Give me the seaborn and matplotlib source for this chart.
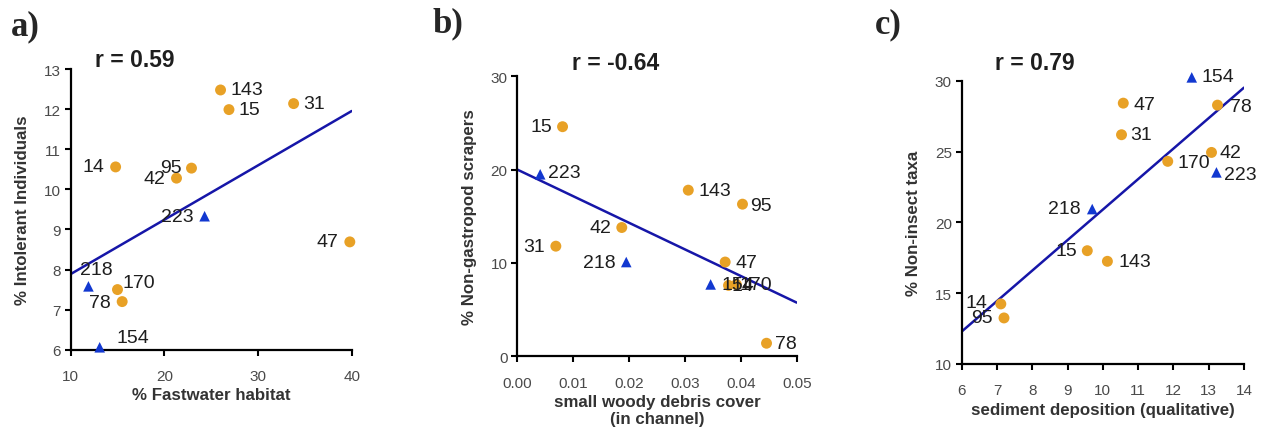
import numpy as np
import pandas as pd
import matplotlib
matplotlib.use('Agg')
import matplotlib.pyplot as plt
import seaborn as sns

# site numbers, triangles mark sites 154, 218, 223
tri_sites = [154, 218, 223]

# a) fastwater habitat vs intolerant individuals
a_site = [143, 15, 31, 14, 95, 42, 223, 47, 218, 170, 78, 154]
a_x = [26.0, 26.9, 33.8, 14.8, 22.9, 21.3, 24.3, 39.8, 11.9, 15.0, 15.5, 13.1]
a_y = [12.48, 11.99, 12.14, 10.56, 10.53, 10.28, 9.33, 8.69, 7.58, 7.50, 7.20, 6.06]

# b) small woody debris vs non-gastropod scrapers
b_site = [15, 223, 143, 95, 42, 31, 218, 47, 154, 14, 170, 78]
b_x = [0.0081, 0.0041, 0.0306, 0.0403, 0.0187, 0.0069, 0.0195, 0.0372, 0.0346, 0.0378, 0.0392, 0.0446]
b_y = [24.6, 19.5, 17.8, 16.3, 13.8, 11.8, 10.1, 10.1, 7.7, 7.6, 7.7, 1.4]

# c) sediment deposition vs non-insect taxa
c_site = [154, 47, 78, 31, 42, 170, 223, 218, 15, 143, 14, 95]
c_x = [12.52, 10.58, 13.25, 10.53, 13.08, 11.84, 13.22, 9.70, 9.56, 10.13, 7.11, 7.20]
c_y = [30.24, 28.42, 28.28, 26.19, 24.94, 24.31, 23.53, 20.94, 18.0, 17.25, 14.24, 13.25]

r_text = ['r = 0.59', 'r = -0.64', 'r = 0.79']

sns.set_style('ticks')
plt.rcParams['font.family'] = ['Liberation Sans', 'DejaVu Sans']

orange = '#E8A126'
blue = '#1238D0'
line_col = '#1616A8'

fig = plt.figure(figsize=(12.66, 4.35), dpi=100)
ax_a = fig.add_axes([0.0558, 0.1938, 0.222, 0.645])
ax_b = fig.add_axes([0.4086, 0.1786, 0.2207, 0.6437])
ax_c = fig.add_axes([0.7596, 0.161, 0.223, 0.651])

# label offsets in pixels (dx, dy, ha)
a_off = [(10, 0, 'left'), (10, 0, 'left'), (10, 0, 'left'), (-11, 0, 'right'),
         (-10, 1, 'right'), (-11, 0, 'right'), (-11, 0, 'right'), (-11, 0, 'right'),
         (-8, 17, 'left'), (5, 7, 'left'), (-11, -1, 'right'), (17, 10, 'left')]
b_off = [(-10, 0, 'right'), (8, 2, 'left'), (10, 0, 'left'), (8, -1, 'left'),
         (-10, 0, 'right'), (-11, 0, 'right'), (-11, 0, 'right'), (10, 0, 'left'),
         (11, 0, 'left'), (3, 0, 'left'), (3, 0, 'left'), (8, 0, 'left')]
c_off = [(10, 1, 'left'), (10, -1, 'left'), (12, -1, 'left'), (9, 0, 'left'),
         (8, 0, 'left'), (10, -1, 'left'), (8, -2, 'left'), (-12, 1, 'right'),
         (-10, 0, 'right'), (11, 0, 'left'), (-13, 1, 'right'), (-11, 0, 'right')]

panels = [
    (ax_a, a_site, a_x, a_y, a_off, (10, 40), (6, 13), [10, 20, 30, 40], range(6, 14),
     '% Fastwater habitat', '% Intolerant Individuals', (0.086, 1.036), 'a)', (11, 27)),
    (ax_b, b_site, b_x, b_y, b_off, (0, 0.05), (0, 30), [0, 0.01, 0.02, 0.03, 0.04, 0.05], [0, 10, 20, 30],
     'small woody debris cover\n(in channel)', '% Non-gastropod scrapers', (0.195, 1.05), 'b)', (432, 24)),
    (ax_c, c_site, c_x, c_y, c_off, (6, 14), (10, 30), range(6, 15), [10, 15, 20, 25, 30],
     'sediment deposition (qualitative)', '% Non-insect taxa', (0.118, 1.065), 'c)', (875, 25)),
]

for i, (ax, site, x, y, off, xl, yl, xt, yt, xlab, ylab, rpos, letter, lpos) in enumerate(panels):
    df = pd.DataFrame({'site': site, 'x': x, 'y': y})
    df['tri'] = df['site'].isin(tri_sites)
    ax.set_xlim(*xl)
    ax.set_ylim(*yl)
    sns.regplot(data=df, x='x', y='y', ax=ax, scatter=False, ci=None, truncate=False,
                line_kws={'color': line_col, 'lw': 1.8, 'zorder': 2})
    sns.scatterplot(data=df[~df['tri']], x='x', y='y', ax=ax, color=orange, marker='o',
                    s=62, edgecolor='none', zorder=3, clip_on=False)
    sns.scatterplot(data=df[df['tri']], x='x', y='y', ax=ax, color=blue, marker='^',
                    s=58, edgecolor='none', zorder=3, clip_on=False)
    for (s, xv, yv), (dx, dy, ha) in zip(zip(site, x, y), off):
        ax.annotate(str(s), (xv, yv), xytext=(dx * 0.72, dy * 0.72), textcoords='offset points',
                    ha=ha, va='center', fontsize=14, color='#1e1e1e', zorder=4,
                    annotation_clip=False)
    ax.set_xlim(*xl)
    ax.set_ylim(*yl)
    ax.set_xticks(list(xt))
    ax.set_yticks(list(yt))
    if i == 1:
        ax.set_xticklabels(['0.00', '0.01', '0.02', '0.03', '0.04', '0.05'])
    ax.set_xlabel(xlab, fontsize=12.2, fontweight='bold', color='#333333', labelpad=3)
    ax.set_ylabel(ylab, fontsize=12.2, fontweight='bold', color='#333333', labelpad=10)
    ax.tick_params(axis='both', labelsize=11, labelcolor='#4a4a4a', width=1.5, length=4, color='black')
    ax.tick_params(axis='x', pad=10)
    ax.tick_params(axis='y', pad=3)
    for sp in ['left', 'bottom']:
        ax.spines[sp].set_linewidth(1.6)
        ax.spines[sp].set_color('black')
    sns.despine(ax=ax)
    ax.text(rpos[0], rpos[1], r_text[i], transform=ax.transAxes, fontsize=16.5,
            fontweight='bold', color='#1e1e1e', ha='left', va='center')
    fig.text(lpos[0] / 1266, 1 - lpos[1] / 435, letter, fontsize=25, fontweight='bold',
             family=['Liberation Serif', 'DejaVu Serif'], ha='left', va='center')

fig.savefig('out.png', dpi=100)
